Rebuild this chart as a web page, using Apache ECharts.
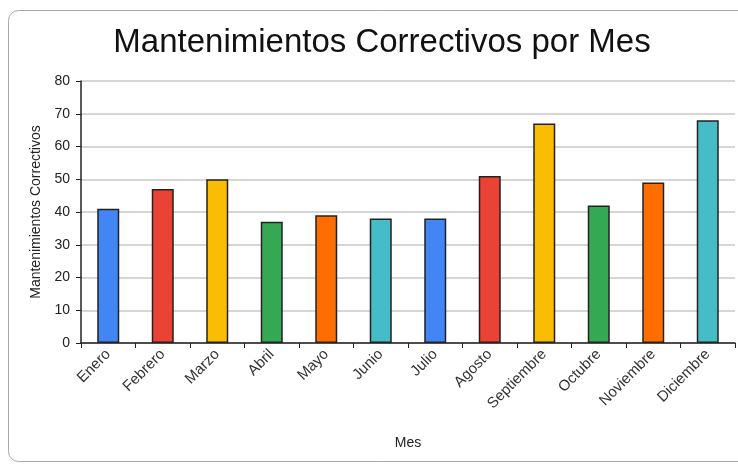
<!DOCTYPE html>
<html><head><meta charset="utf-8">
<script src="https://cdn.jsdelivr.net/npm/echarts@6/dist/echarts.min.js"></script>
<style>html,body{margin:0;padding:0;background:#fff}#c{width:738px;height:464px}</style>
</head><body><div id="c"></div>
<script>
const categories = ["Enero","Febrero","Marzo","Abril","Mayo","Junio","Julio","Agosto","Septiembre","Octubre","Noviembre","Diciembre"];
const values = [41,47,50,37,39,38,38,51,67,42,49,68];
const colors = ["#4285F4","#EA4335","#FBBC04","#34A853","#FF6D01","#46BDC6"];
const yTicks = [0,10,20,30,40,50,60,70,80];
const titleText = "Mantenimientos Correctivos por Mes";
const yName = "Mantenimientos Correctivos";
const xName = "Mes";

const chart = echarts.init(document.getElementById('c'), null, {renderer:'canvas'});
const font = "Liberation Sans, Arial, sans-serif";
chart.setOption({
  animation:false,
  graphic:[{type:'rect',shape:{x:8.5,y:10.5,width:740,height:451,r:10},style:{fill:'none',stroke:'#a8a8a8',lineWidth:1},z:-1}],
  title:{text:titleText,left:377,top:21,textAlign:'center',textStyle:{fontFamily:font,fontSize:33,fontWeight:'normal',color:'#111'}},
  grid:{left:81,right:3,top:81,bottom:121,containLabel:false},
  xAxis:{type:'category',data:categories,name:xName,nameLocation:'middle',nameGap:93,
    nameTextStyle:{fontFamily:font,fontSize:14,color:'#222'},
    axisLine:{lineStyle:{color:'#222',width:1.5}},
    axisTick:{show:true,alignWithLabel:false,length:5,lineStyle:{color:'#222'}},
    axisLabel:{rotate:45,interval:0,fontFamily:font,fontSize:15,color:'#333',margin:9}},
  yAxis:{type:'value',min:0,max:80,interval:10,name:yName,nameLocation:'middle',nameGap:36,
    nameTextStyle:{fontFamily:font,fontSize:14,color:'#222'},
    axisLine:{show:true,lineStyle:{color:'#222',width:1.5}},
    axisTick:{show:true,length:5,lineStyle:{color:'#222'}},
    axisLabel:{fontFamily:font,fontSize:14,color:'#222',margin:11,
      formatter:v=>yTicks.includes(v)?String(v):''},
    splitLine:{lineStyle:{color:'#c8c8c8',width:1.5}}},
  series:[{type:'bar',barWidth:22,
    data:values.map((v,i)=>({value:v,itemStyle:{color:colors[i%colors.length]}})),
    itemStyle:{borderColor:'#222',borderWidth:1.5}}]
});
</script></body></html>
